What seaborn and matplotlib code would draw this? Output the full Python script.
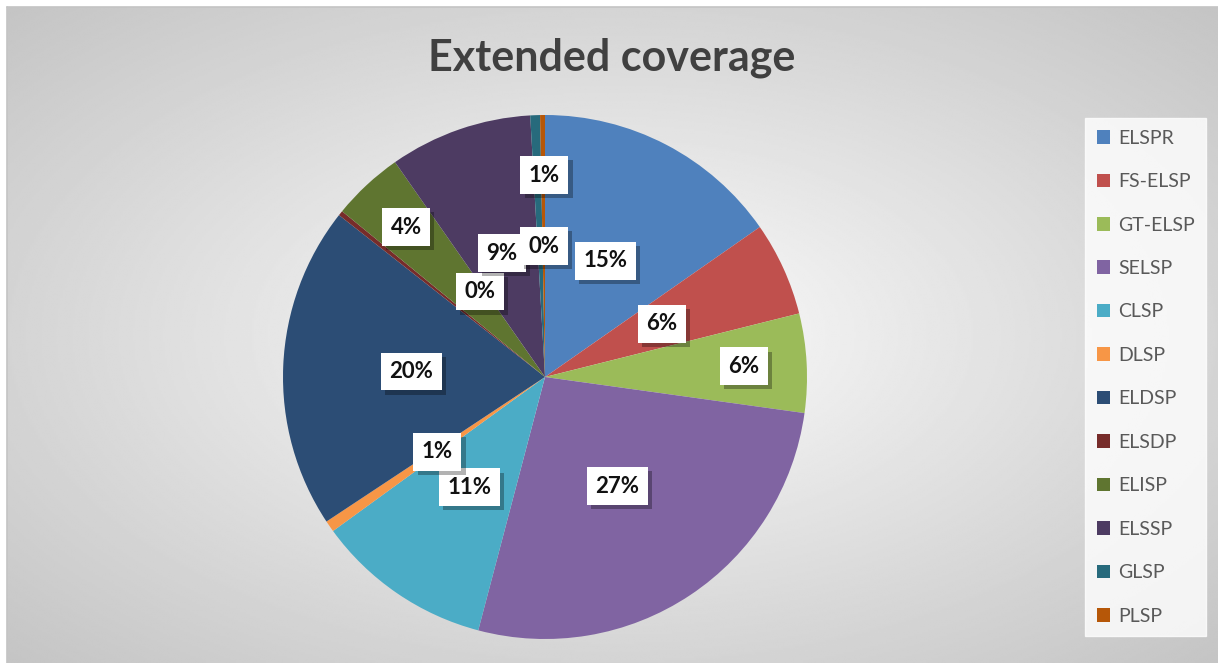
import numpy as np
import matplotlib
matplotlib.use("Agg")
import matplotlib.pyplot as plt
import matplotlib.patheffects as pe
import seaborn as sns

# Share of each method in the extended coverage set (percent)
methods = ["ELSPR", "FS-ELSP", "GT-ELSP", "SELSP", "CLSP", "DLSP",
           "ELDSP", "ELSDP", "ELISP", "ELSSP", "GLSP", "PLSP"]
shares = [15.3, 5.8, 6.1, 26.9, 10.9, 0.7, 19.9, 0.3, 4.4, 8.8, 0.6, 0.3]
slice_colors = ["#4F81BD", "#C0504D", "#9BBB59", "#8064A2", "#4BACC6", "#F79646",
                "#2C4D75", "#772C2A", "#5F7530", "#4D3B62", "#276A7C", "#B65708"]

# Radial placement of each percentage label (fraction of radius) and a small
# clockwise nudge in degrees for crowded slices
label_radius = [0.50, 0.49, 0.76, 0.50, 0.51, 0.50, 0.51, 0.41, 0.78, 0.50, 0.77, 0.50]
label_nudge = [0, 0, 0, 0, 0, 0, 0, 14, 0, 0, 2, 0]

sns.set_theme(style="white")
plt.rcParams["font.family"] = ["Lato", "DejaVu Sans"]

W, H = 1218, 663
fig = plt.figure(figsize=(W / 100, H / 100), dpi=100)
fig.patch.set_facecolor("white")

# Chart area with a soft radial gradient
x0, y0 = 7, 7
bg = fig.add_axes([x0 / W, 0, (W - x0) / W, (H - y0) / H])
gx = np.linspace(-1, 1, 600)
gy = np.linspace(-1, 1, 330)
XX, YY = np.meshgrid(gx, gy)
d = np.clip(np.sqrt(XX ** 2 + YY ** 2) / np.sqrt(2), 0, 1)
shade = 1.0 - 0.23 * d ** 0.9
bg.imshow(shade, cmap="gray", vmin=0, vmax=1, aspect="auto",
          extent=[0, 1, 0, 1], interpolation="bilinear")
bg.set_axis_off()
fig.add_artist(plt.Line2D([x0 / W, 1], [1 - y0 / H, 1 - y0 / H],
                          color="#c4c4c4", lw=1.2, transform=fig.transFigure))
fig.add_artist(plt.Line2D([x0 / W, x0 / W], [0, 1 - y0 / H],
                          color="#c4c4c4", lw=1.2, transform=fig.transFigure))

# Pie axes
cx, cy, R = 545, 377, 262
ax = fig.add_axes([(cx - R) / W, (H - cy - R) / H, 2 * R / W, 2 * R / H])
ax.set_facecolor("none")
wedges, _ = ax.pie(shares, colors=slice_colors, startangle=90, counterclock=False,
                   radius=1.0, wedgeprops=dict(linewidth=0))
ax.set_xlim(-1, 1)
ax.set_ylim(-1, 1)
ax.set_aspect("equal")
ax.set_axis_off()

for w, v, r, nud in zip(wedges, shares, label_radius, label_nudge):
    mid = np.deg2rad((w.theta1 + w.theta2) / 2 - nud)
    t = ax.text(r * np.cos(mid), r * np.sin(mid), f"{round(v):d}%",
                ha="center", va="center", fontsize=16, fontweight="bold",
                color="#111111",
                bbox=dict(boxstyle="square,pad=0.38", facecolor="white",
                          edgecolor="none"))
    t.get_bbox_patch().set_path_effects(
        [pe.SimplePatchShadow(offset=(3, -3), shadow_rgbFace="#000000", alpha=0.3),
         pe.Normal()])

# Title
fig.text(612 / W, 1 - 58 / H, "Extended coverage", ha="center", va="center",
         fontsize=31, fontweight="bold", color="#404040")

# Legend on the right
leg = fig.legend(wedges, methods, loc="upper left",
                 bbox_to_anchor=(1085 / W, 1 - 118 / H),
                 frameon=True, fontsize=14, labelcolor="#595959",
                 handlelength=0.7, handleheight=0.7, handletextpad=0.4,
                 labelspacing=1.36, borderpad=0.6, borderaxespad=0,
                 fancybox=False)
frame = leg.get_frame()
frame.set_facecolor((1, 1, 1, 0.35))
frame.set_edgecolor((1, 1, 1, 0.4))
frame.set_linewidth(1.0)

fig.savefig("out.png", dpi=100)
